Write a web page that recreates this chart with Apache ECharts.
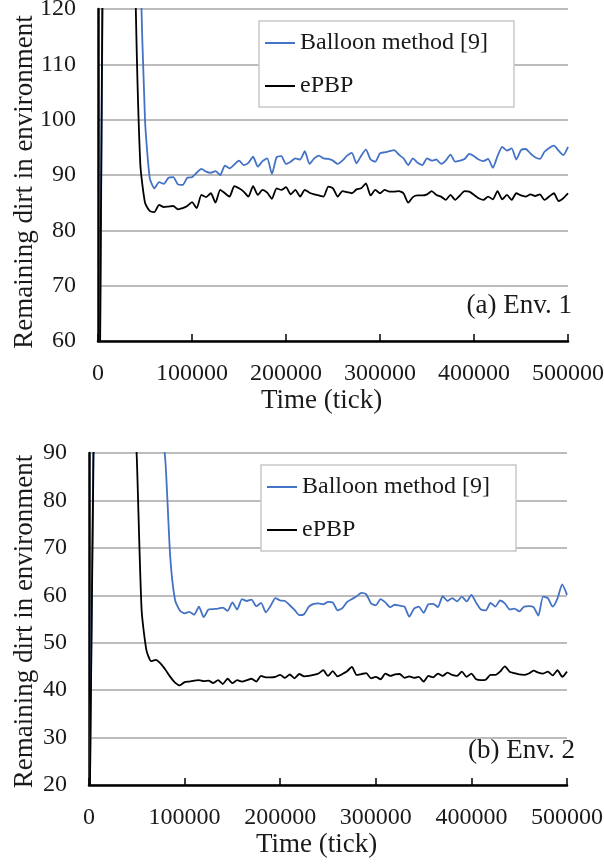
<!DOCTYPE html>
<html>
<head>
<meta charset="utf-8">
<title>Remaining dirt</title>
<script src="https://cdn.jsdelivr.net/npm/echarts@6.0.0/dist/echarts.min.js"></script>
<style>
  html, body { margin: 0; padding: 0; background: #fff; }
  #main { width: 604px; height: 864px; }
</style>
</head>
<body>
<div id="main"></div>
<script>
// sampling times (tick)
var times = [
  0, 5000, 10000, 15000, 20000, 25000, 30000, 35000, 40000, 45000,
  50000, 55000, 60000, 65000, 70000, 75000, 80000, 85000, 90000, 95000,
  100000, 105000, 110000, 115000, 120000, 125000, 130000, 135000, 140000, 145000,
  150000, 155000, 160000, 165000, 170000, 175000, 180000, 185000, 190000, 195000,
  200000, 205000, 210000, 215000, 220000, 225000, 230000, 235000, 240000, 245000,
  250000, 255000, 260000, 265000, 270000, 275000, 280000, 285000, 290000, 295000,
  300000, 305000, 310000, 315000, 320000, 325000, 330000, 335000, 340000, 345000,
  350000, 355000, 360000, 365000, 370000, 375000, 380000, 385000, 390000, 395000,
  400000, 405000, 410000, 415000, 420000, 425000, 430000, 435000, 440000, 445000,
  450000, 455000, 460000, 465000, 470000, 475000, 480000, 485000, 490000, 495000,
  500000
];

// (a) Env. 1
var env1Balloon = [
  0, 125, 200, 260, 300, 300, 270, 230, 180, 128,
  100, 89.5, 87.6, 88.7, 88.4, 89.5, 89.6, 88.3, 88.2, 89.5,
  89.6, 90.4, 91.1, 90.6, 90.4, 90.7, 90.0, 91.7, 91.2, 91.9,
  92.6, 91.8, 92.2, 93.3, 91.5, 92.5, 93.0, 90.2, 93.2, 93.4,
  92.0, 92.4, 93.0, 92.8, 94.3, 92.0, 93.0, 93.5, 93.0, 92.9,
  92.6, 92.0, 92.6, 93.5, 94.0, 92.1, 93.5, 94.6, 92.8, 92.4,
  93.9, 94.1, 94.3, 94.5, 93.7, 93.0, 91.8, 93.0, 92.2, 91.8,
  93.0, 92.6, 92.8, 92.0, 92.6, 93.7, 92.4, 92.6, 92.9, 93.8,
  93.4, 92.8, 92.5, 92.9, 91.3, 93.4, 95.1, 94.4, 94.8, 92.8,
  94.5, 94.7, 93.9, 93.2, 92.9, 94.2, 94.9, 95.3, 94.4, 93.6,
  95.1
];
var env1Epbp = [
  0, 130, 210, 260, 280, 260, 230, 180, 122, 92,
  85, 83.5, 83.3, 84.6, 84.2, 84.3, 84.4, 83.8, 84.0, 84.4,
  85.1, 84.0, 86.4, 86.0, 86.7, 85.0, 87.3, 86.7, 86.1, 88.0,
  87.6, 87.0, 86.1, 88.0, 86.4, 87.3, 86.8, 85.7, 87.6, 87.3,
  87.8, 86.5, 87.3, 86.1, 87.3, 86.8, 86.5, 86.3, 86.1, 87.9,
  87.6, 86.1, 87.1, 86.9, 86.7, 87.4, 87.6, 88.5, 86.3, 87.3,
  86.7, 87.3, 87.0, 87.0, 87.1, 86.7, 85.0, 86.0, 86.3, 86.3,
  86.5, 87.1, 86.4, 86.1, 85.5, 86.4, 85.5, 86.3, 87.1, 87.0,
  86.4, 85.8, 85.5, 86.1, 85.6, 87.1, 85.6, 86.4, 85.5, 86.7,
  86.3, 86.1, 86.5, 86.2, 86.5, 85.5, 86.1, 86.7, 85.3, 85.8,
  86.7
];

// (b) Env. 2
var env2Balloon = [
  0, 100, 180, 240, 280, 290, 280, 260, 230, 200,
  175, 150, 130, 115, 103, 97, 88, 68, 59, 56.8,
  56.2, 56.5, 55.9, 57.6, 55.4, 57.0, 57.1, 57.2, 57.4, 56.7,
  58.5, 57.0, 59.2, 58.8, 59.1, 57.7, 58.4, 56.4, 57.8, 59.4,
  58.9, 58.8, 57.9, 56.9, 55.8, 56.0, 57.6, 58.2, 58.3, 58.1,
  58.6, 58.5, 56.8, 57.3, 58.6, 59.2, 59.8, 60.5, 60.2, 58.3,
  57.9, 59.2, 58.5, 57.5, 58.0, 57.8, 57.6, 55.5, 57.2, 57.6,
  56.3, 58.1, 58.2, 57.5, 59.8, 58.8, 59.4, 58.7, 59.7, 58.7,
  60.1, 58.4, 57.0, 56.8, 58.4, 57.6, 58.9, 58.3, 57.0, 57.2,
  56.6, 57.6, 57.7, 57.5, 55.7, 59.7, 59.4, 57.6, 59.3, 62.3,
  60.1
];
var env2Epbp = [
  0, 95, 170, 220, 240, 230, 200, 170, 140, 112,
  89, 57, 48.5, 46.1, 46.4, 45.6, 44.3, 42.8, 41.6, 41.0,
  41.7, 41.8, 42.0, 42.1, 41.9, 42.0, 41.5, 42.1, 41.3, 42.4,
  41.5, 42.1, 41.8, 42.1, 42.4, 41.8, 43.0, 42.7, 42.7, 42.8,
  43.2, 42.6, 43.3, 42.5, 43.4, 42.9, 43.0, 43.2, 43.5, 44.2,
  43.0, 44.0, 42.9, 43.4, 44.0, 44.9, 43.2, 43.4, 43.6, 42.5,
  42.8, 42.3, 43.5, 43.0, 43.3, 43.4, 42.6, 42.9, 42.6, 42.8,
  41.8, 43.0, 42.7, 43.5, 43.0, 43.7, 43.2, 43.0, 43.9, 42.8,
  43.5, 42.3, 42.1, 42.2, 43.2, 43.2, 43.9, 45.0, 43.9, 43.6,
  43.3, 43.2, 43.5, 44.1, 43.7, 43.5, 43.9, 43.1, 44.2, 42.8,
  43.9
];

var seriesNames = ['Balloon method [9]', 'ePBP'];
var yRanges = [[60, 120], [20, 90]];

var FONT = 'Liberation Serif';
var BLUE = '#4472c4';
var BLACK = '#000000';

function pairs(vals) {
  var temp = [];
  for (var i = 0; i < times.length; i++) {
    temp.push([times[i], vals[i]]);
  }
  return temp;
}

function makeXAxis(idx) {
  return {
    type: 'value',
    gridIndex: idx,
    min: 0,
    max: 500000,
    interval: 100000,
    name: 'Time (tick)',
    nameLocation: 'middle',
    nameGap: 46,
    nameMoveOverlap: false,
    nameTextStyle: { fontFamily: FONT, fontSize: 27, color: '#1a1a1a', padding: [0, 23, 0, 0] },
    axisLine: { show: true, onZero: false, lineStyle: { color: '#000', width: 2.5 } },
    axisTick: { show: true, inside: true, length: 7, lineStyle: { color: '#000', width: 1.5 } },
    axisLabel: {
      fontFamily: FONT, fontSize: 24, color: '#1a1a1a', margin: 21,
      formatter: function (v) { return String(v); }
    },
    splitLine: { show: false }
  };
}

function makeYAxis(idx, gap, shift) {
  return {
    type: 'value',
    gridIndex: idx,
    min: yRanges[idx][0],
    max: yRanges[idx][1],
    interval: 10,
    name: 'Remaining dirt in environment',
    nameLocation: 'middle',
    nameGap: gap,
    nameMoveOverlap: false,
    nameTextStyle: { fontFamily: FONT, fontSize: 27, color: '#1a1a1a', padding: [0, shift, 0, 0] },
    axisLine: { show: true, lineStyle: { color: '#000', width: 2.5 } },
    axisTick: { show: false },
    axisLabel: { fontFamily: FONT, fontSize: 24, color: '#1a1a1a', margin: 22 },
    splitLine: { show: true, lineStyle: { color: '#a6a6a6', width: 1.5 } }
  };
}

function makeLine(name, vals, color, idx) {
  return {
    type: 'line',
    name: name,
    xAxisIndex: idx,
    yAxisIndex: idx,
    data: pairs(vals),
    symbol: 'none',
    smooth: 0.2,
    clip: true,
    lineStyle: { color: color, width: 1.8 },
    itemStyle: { color: color }
  };
}

function makeLegend(left, top) {
  return {
    orient: 'vertical',
    left: left,
    top: top,
    padding: [10, 26, 9, 6],
    itemGap: 19,
    icon: 'rect',
    itemWidth: 30,
    itemHeight: 2,
    backgroundColor: '#fff',
    borderColor: '#c8c8c8',
    borderWidth: 1.5,
    textStyle: { fontFamily: FONT, fontSize: 24, color: '#1a1a1a', lineHeight: 24 },
    data: seriesNames
  };
}

var chart = echarts.init(document.getElementById('main'), null, { renderer: 'canvas' });

var option = {
  animation: false,
  backgroundColor: '#fff',
  textStyle: { fontFamily: FONT },
  grid: [
    { left: 98, top: 9, width: 470, height: 332, outerBoundsMode: 'none' },
    { left: 89, top: 453, width: 478, height: 332, outerBoundsMode: 'none' }
  ],
  xAxis: [makeXAxis(0), makeXAxis(1)],
  yAxis: [makeYAxis(0, 60, 14), makeYAxis(1, 51, 5)],
  legend: [makeLegend(259, 21), makeLegend(261, 465)],
  graphic: [
    {
      type: 'text', right: 32, top: 292,
      style: { text: '(a) Env. 1', font: '27px "Liberation Serif"', fill: '#1a1a1a' }
    },
    {
      type: 'text', right: 29, top: 737,
      style: { text: '(b) Env. 2', font: '27px "Liberation Serif"', fill: '#1a1a1a' }
    }
  ],
  series: [
    makeLine(seriesNames[0], env1Balloon, BLUE, 0),
    makeLine(seriesNames[1], env1Epbp, BLACK, 0),
    makeLine(seriesNames[0], env2Balloon, BLUE, 1),
    makeLine(seriesNames[1], env2Epbp, BLACK, 1)
  ]
};

chart.setOption(option);
</script>
</body>
</html>
